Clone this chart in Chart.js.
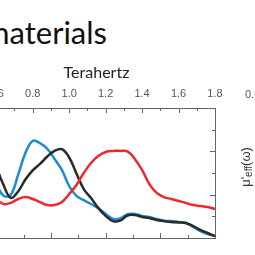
<!DOCTYPE html>
<html>
<head>
<meta charset="utf-8">
<script src="https://cdn.jsdelivr.net/npm/chart.js@4.4.1/dist/chart.umd.min.js"></script>
<style>
  html, body { margin: 0; padding: 0; background: #fff; overflow: hidden; }
  #wrap { position: relative; width: 255px; height: 255px; overflow: hidden; }
  #head { position: absolute; right: 148px; top: 17px; font: 31px Lato, sans-serif; line-height: 31px; color: #111; white-space: nowrap; }
  #box { position: absolute; left: -40px; top: 0; width: 300px; height: 255px; }
</style>
</head>
<body>
<div id="wrap">
  <div id="head">Metamaterials</div>
  <div id="box"><canvas id="chart"></canvas></div>
</div>
<script>
// frequency in THz
const freqs = [0.60, 0.64, 0.68, 0.72, 0.76, 0.80, 0.84, 0.88, 0.92, 0.96,
  1.00, 1.04, 1.08, 1.12, 1.16, 1.20, 1.24, 1.28, 1.32, 1.36,
  1.40, 1.44, 1.48, 1.52, 1.56, 1.60, 1.64, 1.68, 1.72, 1.76, 1.80];

const blackSeries = [3.30, 2.45, 1.85, 2.15, 2.70, 3.12, 3.42, 3.76, 4.02, 4.10,
  3.72, 2.98, 2.26, 1.85, 1.38, 1.02, 0.78, 0.80, 1.04, 1.06,
  0.97, 0.92, 0.83, 0.78, 0.74, 0.72, 0.69, 0.55, 0.37, 0.23, 0.09];

const blueSeries = [2.50, 1.95, 2.00, 2.91, 3.92, 4.48, 4.38, 4.11, 3.65, 3.14,
  2.40, 1.94, 1.75, 1.57, 1.38, 1.11, 0.88, 0.90, 1.10, 1.11,
  1.02, 0.97, 0.88, 0.80, 0.78, 0.74, 0.69, 0.51, 0.32, 0.18, 0.09];

const redSeries = [1.80, 1.57, 1.62, 1.80, 1.89, 1.80, 1.66, 1.52, 1.52, 1.66,
  2.03, 2.45, 3.00, 3.46, 3.78, 3.97, 4.02, 4.02, 4.00, 3.65,
  3.14, 2.49, 2.08, 1.89, 1.80, 1.71, 1.62, 1.52, 1.48, 1.43, 1.34];

// axis ticks
const topTicks = [0.6, 0.7, 0.8, 0.9, 1.0, 1.1, 1.2, 1.3, 1.4, 1.5, 1.6, 1.7, 1.8];
const topLabels = ['0.6', '0.8', '1.0', '1.2', '1.4', '1.6', '1.8'];
const bottomTicks = [0.6, 0.75, 0.9, 1.05, 1.2, 1.35, 1.5, 1.65, 1.8];
const yTicks = [0, 1, 2, 3, 4, 5, 6];
const nextPanelLabel = '0.6';

const pts = (ys) => freqs.map((f, i) => ({ x: f, y: ys[i] }));

// ticks point into the plot, drawn from the scales
const inwardTicks = {
  id: 'inwardTicks',
  afterDraw(chart) {
    const { ctx, chartArea: a, scales } = chart;
    ctx.save();
    ctx.strokeStyle = '#666';
    ctx.lineWidth = 1;
    ctx.beginPath();
    topTicks.forEach((v) => {
      const x = Math.round(scales.x.getPixelForValue(v)) + 0.5;
      const len = Math.round(v * 10) % 2 === 0 ? 5 : 3;
      ctx.moveTo(x, a.top);
      ctx.lineTo(x, a.top + len);
    });
    bottomTicks.forEach((v) => {
      const x = Math.round(scales.x2.getPixelForValue(v)) + 0.5;
      const len = Math.round(v * 100) % 30 === 0 ? 5 : 3;
      ctx.moveTo(x, a.bottom);
      ctx.lineTo(x, a.bottom - len);
    });
    yTicks.forEach((v) => {
      const y = Math.round(scales.y.getPixelForValue(v)) + 0.5;
      const len = v % 2 === 0 ? 5 : 3;
      ctx.moveTo(a.right, y);
      ctx.lineTo(a.right - len, y);
    });
    ctx.stroke();

    // tick label of the neighbouring panel, cut by the edge
    ctx.fillStyle = '#555';
    ctx.font = '11px "Liberation Sans", Arial, sans-serif';
    ctx.textBaseline = 'middle';
    ctx.fillText(nextPanelLabel, a.right + 30, 95);

    // right axis title: μ'eff(ω)
    ctx.translate(a.right + 31, (a.top + a.bottom) / 2 - 6);
    ctx.rotate(-Math.PI / 2);
    ctx.fillStyle = '#333';
    const big = '13px "Liberation Sans", Arial, sans-serif';
    const small = '10px "Liberation Sans", Arial, sans-serif';
    ctx.font = big;
    const w1 = ctx.measureText("\u03bc'").width;
    const w3 = ctx.measureText('(\u03c9)').width;
    ctx.font = small;
    const w2 = ctx.measureText('eff').width;
    let x = -(w1 + w2 + w3) / 2;
    ctx.font = big;
    ctx.fillText("\u03bc'", x, 0);
    x += w1;
    ctx.font = small;
    ctx.fillText('eff', x, 3);
    x += w2;
    ctx.font = big;
    ctx.fillText('(\u03c9)', x, 0);
    ctx.restore();
  }
};

const ctx = document.getElementById('chart').getContext('2d');
new Chart(ctx, {
  type: 'line',
  data: {
    datasets: [
      { data: pts(redSeries), borderColor: '#ec2a2e', borderWidth: 2.5 },
      { data: pts(blackSeries), borderColor: '#2a2a2a', borderWidth: 2.5 },
      { data: pts(blueSeries), borderColor: '#1e8cd4', borderWidth: 2.5 },
    ],
  },
  options: {
    responsive: true,
    maintainAspectRatio: false,
    animation: false,
    layout: { padding: { left: 18, right: 0, top: 0, bottom: 0 } },
    elements: {
      point: { radius: 0 },
      line: { tension: 0.4, fill: false },
    },
    plugins: { legend: { display: false }, tooltip: { enabled: false } },
    scales: {
      x: {
        type: 'linear',
        position: 'top',
        min: 0.5,
        max: 1.8,
        afterBuildTicks: (scale) => { scale.ticks = topTicks.map((v) => ({ value: v })); },
        afterFit: (scale) => { scale.height = 108; },
        grid: { display: false, drawTicks: false },
        border: { display: true, color: '#666', width: 1 },
        ticks: {
          padding: 7,
          color: '#555',
          font: { family: '"Liberation Sans", Arial, sans-serif', size: 11 },
          maxRotation: 0,
          autoSkip: false,
          callback: (v) => (topLabels.includes(v.toFixed(1)) ? v.toFixed(1) : ''),
        },
        title: {
          display: true,
          text: 'Terahertz',
          color: '#222',
          font: { family: 'Lato, sans-serif', size: 16 },
          padding: { top: 63, bottom: 0 },
        },
      },
      x2: {
        type: 'linear',
        position: 'bottom',
        min: 0.5,
        max: 1.8,
        afterFit: (scale) => { scale.height = 17; },
        grid: { display: false, drawTicks: false },
        border: { display: true, color: '#666', width: 1 },
        ticks: { display: false },
      },
      y: {
        type: 'linear',
        position: 'right',
        min: 0,
        max: 6,
        afterFit: (scale) => { scale.width = 45; },
        grid: { display: false, drawTicks: false },
        border: { display: true, color: '#666', width: 1 },
        ticks: { display: false },
      },
    },
  },
  plugins: [inwardTicks],
});
</script>
</body>
</html>
